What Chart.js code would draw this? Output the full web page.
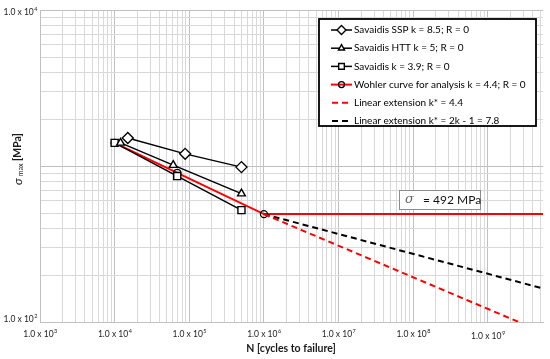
<!DOCTYPE html>
<html>
<head>
<meta charset="utf-8">
<script src="https://cdn.jsdelivr.net/npm/chart.js@4.4.0/dist/chart.umd.min.js"></script>
<style>
    html, body { margin: 0; padding: 0; background: #fff; }
    #wrap { width: 550px; height: 359px; position: relative; }
</style>
</head>
<body>
<div id="wrap"><canvas id="chart"></canvas></div>
<script>
// N = cycles to failure, S = sigma max [MPa]
const sspN = [15000, 88000, 500000];
const sspS = [1514, 1198, 985];
const httN = [12000, 61000, 500000];
const httS = [1409, 1015, 666];
const k39N = [10000, 69000, 500000];
const k39S = [1409, 863, 522];
const wohlerN = [10000, 69000, 1000000, 5500000000];
const wohlerS = [1409, 906, 492, 492];
const extRedN = [1000000, 2600000000];
const extRedS = [492, 100];
const extBlackN = [1000000, 5500000000];
const extBlackS = [492, 164];

const seriesLabels = [
    'Savaidis SSP k = 8.5; R = 0',
    'Savaidis HTT k = 5; R = 0',
    'Savaidis k = 3.9; R = 0',
    'Wohler curve for analysis k = 4.4; R = 0',
    'Linear extension k* = 4.4',
    'Linear extension k* = 2k - 1 = 7.8'
];

// decade labels shown on the axes
const xLabelValues = [1e3, 1e4, 1e5, 1e6, 1e7, 1e8, 1e9];
const xLabelExps = ['3', '4', '5', '6', '7', '8', '9'];
const yLabelValues = [1e2, 1e4];
const yLabelExps = ['2', '4'];
const annotationText = '= 492 MPa';

const FONT = 'Lato, "Liberation Sans", sans-serif';

function pts(xs, ys) {
    return xs.map((x, i) => ({x: x, y: ys[i]}));
}

// all 1..9 x 10^n ticks so every minor grid line shows
function logTicks(min, max) {
    let out = [];
    for (let e = Math.floor(Math.log10(min)); e <= Math.ceil(Math.log10(max)); e++) {
        for (let m = 1; m <= 9; m++) {
            let v = m * Math.pow(10, e);
            if (v >= min * 0.999 && v <= max * 1.001) out.push({value: v});
        }
    }
    return out;
}

function isDecade(v) {
    let l = Math.log10(v);
    return Math.abs(l - Math.round(l)) < 1e-6;
}

function gridColor(c) {
    return c.tick && isDecade(c.tick.value) ? '#c0c0c0' : '#d9d9d9';
}

// "1.0 x 10" with a raised exponent
function drawPow(ctx, exp, x, y, align, size) {
    ctx.font = size + 'px ' + FONT;
    let base = '1.0 x 10';
    let wb = ctx.measureText(base).width;
    ctx.font = (size * 0.65) + 'px ' + FONT;
    let we = ctx.measureText(exp).width;
    let w = wb + we;
    let x0 = align === 'right' ? x - w : x - w / 2;
    ctx.textBaseline = 'middle';
    ctx.textAlign = 'left';
    ctx.font = size + 'px ' + FONT;
    ctx.fillText(base, x0, y);
    ctx.font = (size * 0.65) + 'px ' + FONT;
    ctx.fillText(exp, x0 + wb + 0.5, y - size * 0.38);
}

const decorations = {
    id: 'decorations',
    afterDraw(chart) {
        const ctx = chart.ctx;
        const xs = chart.scales.x, ys = chart.scales.y;
        const area = chart.chartArea;
        ctx.save();
        ctx.fillStyle = '#222';

        // tick labels
        xLabelValues.forEach((v, i) => {
            drawPow(ctx, xLabelExps[i], xs.getPixelForValue(v), area.bottom + 12 + (i === 6 ? 2 : 0), 'center', 8.5);
        });
        yLabelValues.forEach((v, i) => {
            drawPow(ctx, yLabelExps[i], 37, ys.getPixelForValue(v) + (i === 0 ? -3 : 2), 'right', 8.5);
        });

        // x title
        ctx.fillStyle = '#1a1a1a';
        ctx.font = 'bold 10.5px ' + FONT;
        ctx.textAlign = 'center';
        ctx.textBaseline = 'middle';
        ctx.fillText('N [cycles to failure]', 291, 349);

        // y title: sigma_max [MPa], rotated
        ctx.save();
        ctx.translate(18, 159);
        ctx.rotate(-Math.PI / 2);
        ctx.font = 'italic 12px ' + FONT;
        let w1 = ctx.measureText('\u03c3').width;
        ctx.font = '7px ' + FONT;
        let w2 = ctx.measureText('max').width;
        ctx.font = 'bold 10.5px ' + FONT;
        let w3 = ctx.measureText(' [MPa]').width;
        let sx = -(w1 + w2 + w3 + 2) / 2;
        ctx.textAlign = 'left';
        ctx.textBaseline = 'middle';
        ctx.font = 'italic 12px ' + FONT;
        ctx.fillText('\u03c3', sx, 0);
        ctx.font = '7px ' + FONT;
        ctx.fillText('max', sx + w1 + 2, 3);
        ctx.font = 'bold 10.5px ' + FONT;
        ctx.fillText(' [MPa]', sx + w1 + w2 + 2, 0);
        ctx.restore();

        // sigma annotation box
        ctx.fillStyle = '#fff';
        ctx.fillRect(399, 190, 81, 19);
        ctx.strokeStyle = '#8c8c8c';
        ctx.lineWidth = 1;
        ctx.strokeRect(399.5, 190.5, 81, 19);
        ctx.textAlign = 'left';
        ctx.textBaseline = 'middle';
        ctx.fillStyle = '#666';
        ctx.font = 'italic 13px "DejaVu Serif", serif';
        ctx.fillText('\u03c3', 405, 200);
        ctx.fillStyle = '#111';
        ctx.font = '12px ' + FONT;
        ctx.fillText(annotationText, 423, 200);

        // legend box
        const lx = 319, ly = 19, lw = 217, lh = 107;
        ctx.fillStyle = '#fff';
        ctx.fillRect(lx, ly, lw, lh);
        ctx.strokeStyle = '#000';
        ctx.lineWidth = 1.8;
        ctx.strokeRect(lx, ly, lw, lh);
        chart.data.datasets.forEach((ds, i) => {
            const y = 30 + i * 18.2;
            ctx.strokeStyle = ds.borderColor;
            ctx.lineWidth = ds.borderWidth;
            ctx.setLineDash(ds.borderDash || []);
            ctx.beginPath();
            if (ds.borderDash) {
                ctx.moveTo(332, y);
                ctx.lineTo(352, y);
            } else {
                ctx.moveTo(331, y);
                ctx.lineTo(352, y);
            }
            ctx.stroke();
            ctx.setLineDash([]);
            if (ds.legendPoint) {
                ctx.fillStyle = ds.pointBackgroundColor;
                ctx.strokeStyle = ds.pointBorderColor;
                ctx.lineWidth = ds.pointBorderWidth;
                Chart.helpers.drawPoint(ctx, {
                    pointStyle: ds.pointStyle,
                    radius: ds.legendPoint,
                    borderWidth: ds.pointBorderWidth,
                    rotation: 0
                }, 341.5, y);
            }
            ctx.fillStyle = '#000';
            ctx.font = '10px ' + FONT;
            ctx.textAlign = 'left';
            ctx.textBaseline = 'middle';
            ctx.fillText(ds.label, 354, y);
        });
        ctx.restore();
    }
};

function markerSeries(label, xs, ys, style, r) {
    return {
        label: label,
        data: pts(xs, ys),
        showLine: true,
        borderColor: '#000',
        borderWidth: 1.5,
        pointStyle: style,
        pointRadius: r,
        legendPoint: r - 1,
        pointBackgroundColor: '#fff',
        pointBorderColor: '#000',
        pointBorderWidth: 1.4,
        order: 2
    };
}

const datasets = [
    markerSeries(seriesLabels[0], sspN, sspS, 'rectRot', 5.5),
    markerSeries(seriesLabels[1], httN, httS, 'triangle', 4.5),
    markerSeries(seriesLabels[2], k39N, k39S, 'rect', 5),
    {
        label: seriesLabels[3],
        data: pts(wohlerN, wohlerS),
        showLine: true,
        borderColor: '#ff0000',
        borderWidth: 2,
        pointStyle: 'circle',
        pointRadius: [3.5, 3.5, 3.5, 0],
        legendPoint: 3,
        pointBackgroundColor: 'rgba(255,255,255,0)',
        pointBorderColor: '#000',
        pointBorderWidth: 1.3,
        order: 3
    },
    {
        label: seriesLabels[4],
        data: pts(extRedN, extRedS),
        showLine: true,
        borderColor: '#ff0000',
        borderWidth: 2,
        borderDash: [6, 4],
        pointRadius: 0,
        order: 1
    },
    {
        label: seriesLabels[5],
        data: pts(extBlackN, extBlackS),
        showLine: true,
        borderColor: '#000',
        borderWidth: 2,
        borderDash: [6, 4],
        pointRadius: 0,
        order: 1
    }
];

new Chart(document.getElementById('chart'), {
    type: 'scatter',
    data: {datasets: datasets},
    options: {
        responsive: true,
        maintainAspectRatio: false,
        animation: false,
        devicePixelRatio: 1,
        layout: {padding: {top: 8, right: 0, left: 0, bottom: 0}},
        plugins: {legend: {display: false}, tooltip: {enabled: false}},
        scales: {
            x: {
                type: 'logarithmic',
                min: 1000,
                max: 5500000000,
                afterBuildTicks: (s) => { s.ticks = logTicks(1000, 5500000000); },
                afterFit: (s) => { s.height = 37; },
                ticks: {autoSkip: false, maxRotation: 0, callback: () => ''},
                grid: {color: gridColor, drawTicks: false, lineWidth: 1},
                border: {color: '#c0c0c0'}
            },
            y: {
                type: 'logarithmic',
                min: 100,
                max: 10000,
                afterBuildTicks: (s) => { s.ticks = logTicks(100, 10000); },
                afterFit: (s) => { s.width = 40; },
                ticks: {autoSkip: false, callback: () => ''},
                grid: {color: gridColor, drawTicks: false, lineWidth: 1},
                border: {color: '#c0c0c0'}
            }
        }
    },
    plugins: [decorations]
});
</script>
</body>
</html>
